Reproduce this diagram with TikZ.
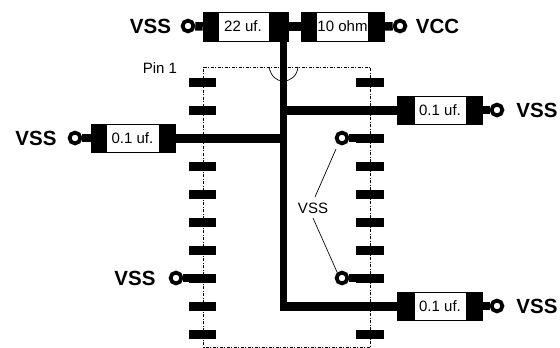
\documentclass[tikz,border=0pt]{standalone}
\usepackage{fontspec}
\usetikzlibrary{backgrounds}
\setmainfont{Liberation Sans}
\tikzset{
  x=1pt,y=-1pt,
  pinpad/.style={fill=black,draw=none,inner sep=0,minimum width=27.5pt,minimum height=9pt},
  capbody/.style={draw=black,line width=.5pt,fill=white,inner sep=0,minimum height=28.5pt},
  capend/.style={fill=black,draw=none,inner sep=0,minimum width=16.5pt,minimum height=29pt},
  term/.style={circle,draw=black,fill=white,line width=3.8pt,inner sep=0,minimum size=10.8pt},
  bigwire/.style={line width=9pt},
  stem/.style={line width=7pt},
  lead/.style={line width=8.5pt},
  biglabel/.style={font=\fontsize{20.5}{20.5}\selectfont\bfseries,inner sep=0},
  smalllabel/.style={font=\fontsize{15}{15}\selectfont,inner sep=0},
  outline/.style={line width=.6pt,dash pattern=on 3pt off 1.5pt on 1pt off 1.5pt},
  thinline/.style={line width=.7pt}
}
\begin{document}
\begin{tikzpicture}
\useasboundingbox (0,0) rectangle (560,348);
% pins
\foreach \i in {1,...,10} {
  \node[pinpad] (l\i) at (202.5,{82+28*(\i-1)}) {};
  \node[pinpad] (r\i) at (370,{82+28*(\i-1)}) {};
}
% capacitors
\node[capbody,minimum width=85pt] (c22) at (245.5,26.5) {};
\node[capend,anchor=west] (c22a) at (c22.west) {};
\node[capend,anchor=east,minimum width=19pt] (c22b) at (c22.east) {};
\node[smalllabel] at (243,26) {22 uf.};
\node[capbody,minimum width=83pt] (c10) at (342.5,26.5) {};
\node[capend,anchor=west] (c10a) at (c10.west) {};
\node[capend,anchor=east] (c10b) at (c10.east) {};
\node[smalllabel] at (342.5,26) {10 ohm};
\node[capbody,minimum width=84pt] (cl) at (133,138) {};
\node[capend,anchor=west] (cla) at (cl.west) {};
\node[capend,anchor=east] (clb) at (cl.east) {};
\node[smalllabel] at (132.5,138) {0.1 uf.};
\node[capbody,minimum width=85pt] (cr) at (439.5,110) {};
\node[capend,anchor=west,minimum width=18pt] (cra) at (cr.west) {};
\node[capend,anchor=east] (crb) at (cr.east) {};
\node[smalllabel] at (440,110) {0.1 uf.};
\node[capbody,minimum width=85pt] (cs) at (439.5,306) {};
\node[capend,anchor=west,minimum width=18pt] (csa) at (cs.west) {};
\node[capend,anchor=east] (csb) at (cs.east) {};
\node[smalllabel] at (440,306) {0.1 uf.};
% terminals
\node[term] (t1) at (188,26) {};
\node[term] (t2) at (400,26) {};
\node[term] (t3) at (75,138) {};
\node[term] (t4) at (497,110) {};
\node[term] (t5) at (497,306) {};
\node[term] (t6) at (176,278) {};
\node[term] (t7) at (342,138) {};
\node[term] (t8) at (342,278) {};
% labels
\node[biglabel] at (150.5,26) {VSS};
\node[biglabel] at (437.5,26) {VCC};
\node[biglabel] at (36,138) {VSS};
\node[biglabel] at (537,110) {VSS};
\node[biglabel] at (537,306) {VSS};
\node[biglabel] at (135,278) {VSS};
\node[smalllabel] at (160,68) {Pin 1};
\node[smalllabel] (vs) at (313,208) {VSS};
\coordinate (va) at (336,149);
\coordinate (vb) at (315,197);
\coordinate (vc) at (313,218);
\coordinate (vd) at (337,272);
\draw[thinline] (va) -- (vb);
\draw[thinline] (vc) -- (vd);
% wires and outline, behind everything else
\coordinate (pa) at (203.5,67);
\coordinate (pb) at (370.5,67);
\coordinate (pc) at (370.5,347);
\coordinate (pd) at (203.5,347);
\coordinate (na) at (269,67);
\coordinate (nb) at (298,67);
\coordinate (nm) at (283,81);
\coordinate (j0) at (283,41);
\coordinate (j1) at (279.5,110);
\coordinate (j2) at (283,138);
\coordinate (j3) at (279.5,306);
\coordinate (j4) at (283,310.5);
\begin{pgfonlayer}{background}
\draw[outline] (pa) -- (pb) -- (pc) -- (pd) -- cycle;
\draw[line width=.7pt] (na) .. controls (271,76) and (276,81) .. (nm) .. controls (291,81) and (297,76) .. (nb);
\draw[stem] (j0) -- (j4);
\draw[bigwire] (c22b.east) -- (c10a.west);
\draw[bigwire] (j1) -- (cra.west);
\draw[bigwire] (clb.east) -- (j2);
\draw[bigwire] (j3) -- (csa.west);
\draw[lead] (t1) -- (c22a.west);
\draw[lead] (c10b.east) -- (t2);
\draw[lead] (t3) -- (cla.west);
\draw[lead] (crb.east) -- (t4);
\draw[lead] (csb.east) -- (t5);
\draw[lead] (t6) -- (l8.west);
\draw[lead] (t7) -- (r3.west);
\draw[lead] (t8) -- (r8.west);
\end{pgfonlayer}
\end{tikzpicture}
\end{document}
